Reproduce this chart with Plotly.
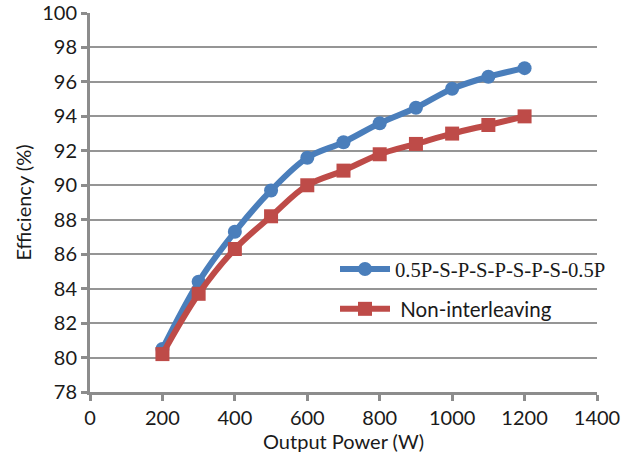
import plotly.graph_objects as go

power = [200, 300, 400, 500, 600, 700, 800, 900, 1000, 1100, 1200]
eff_interleaved = [80.5, 84.4, 87.3, 89.7, 91.6, 92.5, 93.6, 94.5, 95.6, 96.3, 96.8]
eff_non = [80.2, 83.7, 86.3, 88.2, 90.0, 90.85, 91.8, 92.4, 93.0, 93.5, 94.0]

name1 = "0.5P-S-P-S-P-S-P-S-0.5P"
name2 = "Non-interleaving"

BLUE = "#4A7EBB"
RED = "#BE4B48"
GRID = "#959595"
AXIS = "#8C8C8C"
TXT = "#1a1a1a"

fig = go.Figure()
fig.add_trace(go.Scatter(
    x=power, y=eff_interleaved, mode="lines+markers",
    name=name1,
    line=dict(color=BLUE, width=6, shape="spline", smoothing=1.0),
    marker=dict(symbol="circle", size=14, color=BLUE),
    legend="legend", showlegend=True,
))
fig.add_trace(go.Scatter(
    x=power, y=eff_non, mode="lines+markers",
    name="\u00a0" + name2,
    line=dict(color=RED, width=6, shape="spline", smoothing=1.0),
    marker=dict(symbol="square", size=14, color=RED),
    legend="legend2", showlegend=True,
))

fig.update_layout(
    width=640, height=457,
    margin=dict(l=90, r=43, t=13, b=65, autoexpand=False),
    showlegend=True,
    paper_bgcolor="white", plot_bgcolor="white",
    font=dict(family="Lato, Liberation Sans, sans-serif", size=20, color=TXT),
    legend=dict(x=(335 - 90) / 507, y=1 - (269 - 13) / 379, xanchor="left", yanchor="middle",
                bgcolor="rgba(0,0,0,0)", itemwidth=50,
                font=dict(family="Liberation Serif, Times New Roman, serif", size=20.7, color=TXT)),
    legend2=dict(x=(335 - 90) / 507, y=1 - (309 - 13) / 379, xanchor="left", yanchor="middle",
                 bgcolor="rgba(0,0,0,0)", itemwidth=50,
                 font=dict(family="Lato, Liberation Sans, sans-serif", size=20.5, color=TXT)),
)

fig.update_xaxes(
    range=[0, 1400], dtick=200, tick0=0, automargin=False,
    showgrid=False, zeroline=False,
    showline=True, linecolor=AXIS, linewidth=3,
    ticks="outside", ticklen=6, tickwidth=3, tickcolor=AXIS,
    title=dict(text="Output Power (W)", standoff=2, font=dict(size=20)),
    tickfont=dict(size=20),
)
fig.update_yaxes(
    range=[78, 100], dtick=2, tick0=78, automargin=False,
    showgrid=True, gridcolor=GRID, gridwidth=2, zeroline=False,
    showline=True, linecolor=AXIS, linewidth=3,
    ticks="outside", ticklen=6, tickwidth=3, tickcolor=AXIS,
    title=dict(text="Efficiency (%)", standoff=6, font=dict(size=20)),
    tickfont=dict(size=20),
)

fig.write_html("out.html", config={"displayModeBar": False},
               post_script="document.body.style.margin='0';document.body.style.padding='0';")
